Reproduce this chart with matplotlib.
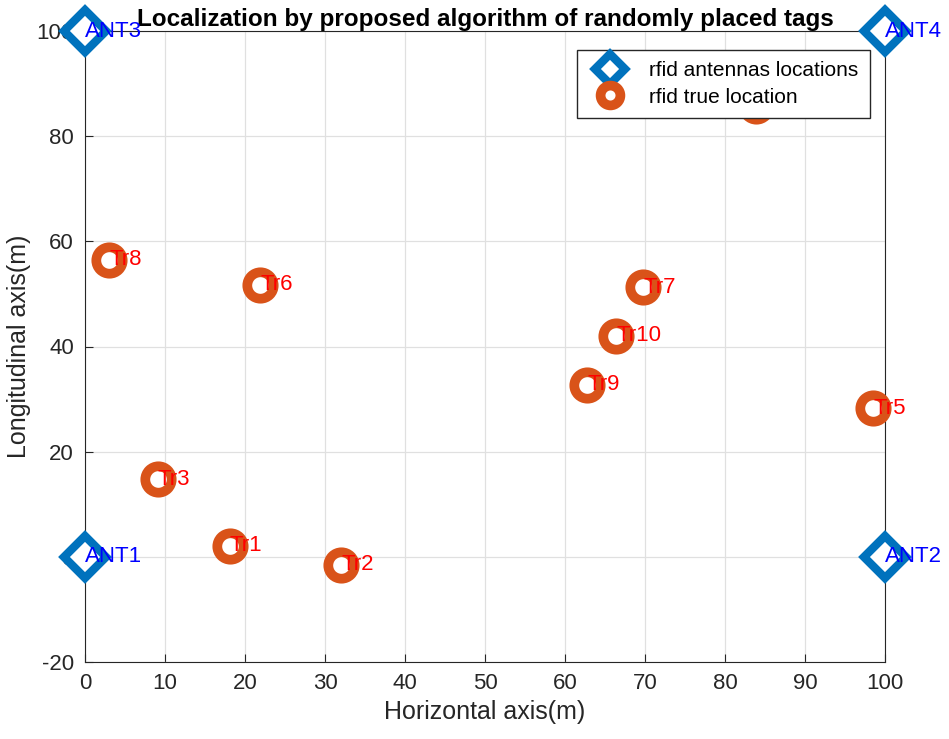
import matplotlib
matplotlib.use("Agg")
import matplotlib.pyplot as plt

ant_x = [0, 100, 0, 100]
ant_y = [0, 0, 100, 100]
ant_labels = ["ANT1", "ANT2", "ANT3", "ANT4"]
tag_x = [18.1, 32.0, 9.1, 83.9, 98.5, 21.9, 69.75, 3.0, 62.75, 66.4]
tag_y = [2.1, -1.5, 14.8, 85.7, 28.3, 51.7, 51.3, 56.5, 32.7, 42.0]
tag_labels = ["Tr%d" % i for i in range(1, 11)]
hidden = {"Tr4"}  # hidden behind the legend in the reference

plt.rcParams['font.family'] = ['Arial', 'Liberation Sans', 'DejaVu Sans']
plt.rcParams['axes.unicode_minus'] = False
fig = plt.figure(figsize=(9.49, 7.39), dpi=100)
ax = fig.add_axes([85/949, 1-662/739, 800/949, 631/739])
blue = "#0072BD"; orange = "#D95319"
ax.plot(ant_x, ant_y, 'D', ms=21, mfc='white', mec=blue, mew=6, ls='none',
        label='rfid antennas locations', clip_on=False, zorder=3)
ax.plot(tag_x, tag_y, 'o', ms=19, mfc='white', mec=orange, mew=7, ls='none',
        label='rfid true location', clip_on=False, zorder=3)
for x, y, s in zip(ant_x, ant_y, ant_labels):
    ax.text(x, y, s, color='blue', fontsize=16, va='center', ha='left', zorder=4, clip_on=False)
for x, y, s in zip(tag_x, tag_y, tag_labels):
    if s in hidden:
        continue
    ax.text(x, y, s, color='red', fontsize=16, va='center', ha='left', zorder=4)
ax.set_xlim(0, 100); ax.set_ylim(-20, 100)
ax.set_xticks(range(0, 101, 10)); ax.set_yticks(range(-20, 101, 20))
ax.grid(True, color='#e0e0e0', lw=0.9)
ax.tick_params(labelsize=16, direction='in', length=6, pad=8, color='#262626', labelcolor='#262626')
ax.set_xlabel('Horizontal axis(m)', fontsize=18, color='#262626', labelpad=4)
ax.set_ylabel('Longitudinal axis(m)', fontsize=18, color='#262626', labelpad=4)
ax.set_title('Localization by proposed algorithm of randomly placed tags', fontsize=17.5,
             fontweight='bold', pad=2)
for s in ax.spines.values():
    s.set_color('#262626')
leg = ax.legend(loc='upper right', bbox_to_anchor=(0.981, 0.970), fontsize=15, framealpha=1,
                fancybox=False, edgecolor='#262626', markerscale=0.75, handletextpad=0.9,
                borderpad=0.55, labelspacing=0.35, borderaxespad=0)
leg.set_zorder(10)
fig.savefig('out.png', dpi=100)
